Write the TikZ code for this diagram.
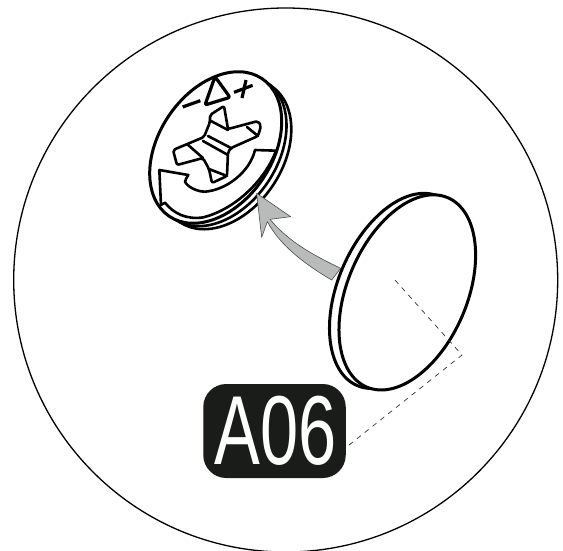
\documentclass[tikz,border=0pt]{standalone}
\usepackage{fontspec}
\setmainfont{Liberation Sans}
\definecolor{darkbox}{HTML}{1A1C1A}
\definecolor{arrowgrey}{HTML}{B9BBBA}
\tikzset{
  partline/.style={draw=black,line width=3pt,fill=white},
  rimline/.style={draw=black,line width=2.6pt,fill=white},
  detail/.style={draw=black,line width=2.6pt,line join=round,line cap=round},
  sign/.style={draw=black,line width=3.2pt,line join=round},
  thinring/.style={draw=black,line width=1.3pt},
  leader/.style={draw=black!80,line width=0.7pt,dash pattern=on 5pt off 5pt},
  labelbox/.style={fill=darkbox,rounded corners=23pt,minimum width=142.5pt,minimum height=94pt,inner sep=0pt}
}
\begin{document}
\begin{tikzpicture}[x=1pt,y=-1pt]
\useasboundingbox (0,0) rectangle (563,550);
\clip (0,0) rectangle (563,550);
\fill[white] (0,0) rectangle (563,550);
% enclosing circle
\draw[thinring] (285.7,280) circle [radius=272pt];
% screw head rims and face
\draw[rimline,shift={(225.7,154.2)},rotate=56] (0,0) ellipse [x radius=82pt,y radius=56.6pt];
\draw[rimline,shift={(220.7,150.8)},rotate=56] (0,0) ellipse [x radius=82.5pt,y radius=56.6pt];
\draw[partline,shift={(215.7,147.5)},rotate=56] (0,0) ellipse [x radius=83pt,y radius=56.6pt];
% symbols on the screw head
\begin{scope}[shift={(130,60)},x=1pt/3,y=-1pt/3]
\draw[sign,rounded corners=2pt] (255,50) -- (300,112) -- (225,135) -- cycle;
\draw[sign] (158,141) -- (211,122);
\draw[sign] (312,97) -- (368,76);
\draw[sign] (348,60) -- (336,114);
\end{scope}
% turning arrow
\begin{scope}[shift={(150,140)},x=1pt/3,y=-1pt/3]
\draw[detail,fill=white] (28,90) -- (115,105) .. controls (112,112) and (105,118) .. (105,125)
  .. controls (112,140) and (140,155) .. (165,155)
  .. controls (230,150) and (300,95) .. (315,30) -- (378,32)
  .. controls (350,110) and (265,205) .. (160,232)
  .. controls (110,240) and (70,220) .. (45,188) -- (33,195) -- cycle;
\end{scope}
% cross recess
\draw[detail,rounded corners=2pt] (210,115) -- (224,106) -- (228,129) -- (258,121) -- (261,126) -- (258,136) -- (231,148) -- (228,152) -- (227,176) -- (212,183) -- (209,169) -- (203,158) -- (177,165) -- (173,150) -- (204,137) -- (210,122) -- cycle;
\draw[detail] (211,121) -- (228,130);
\draw[detail] (247,127) -- (258,136);
\draw[detail] (208,136) -- (231,148);
\draw[detail] (203,141) -- (228,155);
\draw[detail] (187,144) -- (203,158);
\draw[detail] (209,169) -- (227,176);
% grey arrow
\begin{scope}[shift={(190,180)},x=1pt/3,y=-1pt/3]
\draw[fill=arrowgrey,draw=black!70,line width=0.6pt,line join=round]
  (200,40) -- (302,110) -- (240,118)
  .. controls (300,190) and (380,230) .. (452,265) -- (425,300)
  .. controls (340,250) and (270,195) .. (232,125) -- (215,172) -- cycle;
\end{scope}
% cap
\draw[partline,shift={(397.8,290.9)},rotate=66.8] (0,0) ellipse [x radius=103pt,y radius=59.8pt];
\draw[partline,shift={(407.3,292.4)},rotate=66.8] (0,0) ellipse [x radius=103pt,y radius=59.8pt];
% label
\node[labelbox] (a06) at (274.5,431) {};
\node[text=white,font=\fontsize{98}{98}\selectfont,xscale=0.70,inner sep=0pt] (a06text) at (276,431) {A06};
% leader
\coordinate (leadstart) at (395,280);
\coordinate (leadcorner) at (462,355);
\draw[leader] (leadstart) -- (leadcorner) -- (a06.-13.5);
\end{tikzpicture}
\end{document}
